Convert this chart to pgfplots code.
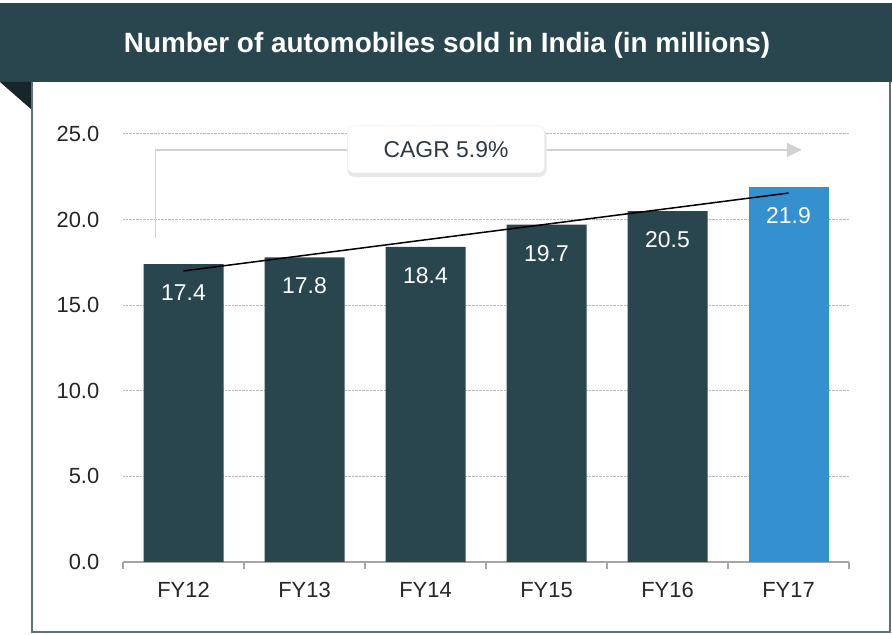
\documentclass[border=0pt]{standalone}
\usepackage{pgfplots}
\pgfplotsset{compat=1.18}
\usepackage{fontspec}
\setmainfont{Liberation Sans}
\usetikzlibrary{arrows.meta}
\definecolor{darkteal}{HTML}{29464E}
\definecolor{foldcol}{HTML}{16262B}
\definecolor{barblue}{HTML}{3590D0}
\definecolor{bordercol}{HTML}{5C7076}
\definecolor{txtgray}{HTML}{262626}
\definecolor{boxtxt}{HTML}{2E3843}
\begin{document}
\begin{tikzpicture}
\fill[white] (0bp,0bp) rectangle (892bp,635bp);
% title banner
\fill[darkteal] (0bp,553bp) rectangle (892bp,632bp);
\fill[foldcol] (0bp,553bp) -- (32bp,553bp) -- (32bp,525bp) -- cycle;
\draw[bordercol, line width=2bp] (32bp,553bp) -- (32bp,3bp) -- (890bp,3bp) -- (890bp,553bp);
\node[white, font=\bfseries\fontsize{28}{32}\selectfont] at (447bp,590bp)
  {Number of automobiles sold in India (in millions)};

\begin{axis}[
    at={(123bp,73bp)}, anchor=south west,
    scale only axis, width=726bp, height=428bp,
    ybar, bar width=80bp, bar shift=0pt,
    xmin=-0.5, xmax=5.5, ymin=0, ymax=25,
    xtick={0,1,2,3,4,5},
    xticklabels={FY12,FY13,FY14,FY15,FY16,FY17},
    minor xtick={-0.5,0.5,1.5,2.5,3.5,4.5,5.5},
    ytick={0,5,10,15,20,25},
    axis lines=left,
    y axis line style={draw=none},
    x axis line style={gray!70, line width=1.2bp, -},
    major x tick style={draw=none},
    minor x tick style={gray!70, line width=1.2bp},
    ytick style={draw=none},
    tick align=outside,
    minor tick length=7bp,
    ymajorgrids,
    grid style={densely dotted, gray!55, line width=1bp},
    yticklabel={\pgfmathprintnumber[fixed,fixed zerofill,precision=1]{\tick}},
    /pgf/number format/assume math mode=true,
    typeset ticklabels with strut,
    ticklabel style={font=\fontsize{22}{26}\selectfont, text=txtgray},
    yticklabel style={xshift=-16bp},
    xticklabel style={yshift=-10bp},
    nodes near coords={\pgfmathprintnumber[fixed,fixed zerofill,precision=1]{\pgfplotspointmeta}},
    every node near coord/.append style={anchor=north, yshift=-17bp, text=white,
        font=\fontsize{23}{26}\selectfont},
    clip=false,
]
\addplot[fill=darkteal, draw=none] coordinates {
    (0,17.4) (1,17.8) (2,18.4) (3,19.7) (4,20.5)
};
\addplot[fill=barblue, draw=none] coordinates {(5,21.9)};

% CAGR arrow
\draw[gray!35, line width=1.5bp, -{Triangle[length=15bp,width=14bp]}]
    (axis cs:-0.23,18.95) |- (axis cs:5.11,24.07);
\node[fill=gray!18, rounded corners=7bp, minimum width=199bp, minimum height=49bp]
    at ([xshift=1bp,yshift=-2.5bp]axis cs:2.17,24.07) {};
\node[draw=gray!15, fill=white, rounded corners=6bp,
      minimum width=197bp, minimum height=47bp, text=boxtxt,
      font=\fontsize{23}{26}\selectfont]
    at (axis cs:2.17,24.1) {CAGR 5.9\%};
% trend line
\draw[black, line width=1.5bp] (axis cs:0,17.0) -- (axis cs:5.0,21.55);
\end{axis}
\pgfresetboundingbox
\useasboundingbox (0bp,0bp) rectangle (892bp,635bp);
\end{tikzpicture}
\end{document}
